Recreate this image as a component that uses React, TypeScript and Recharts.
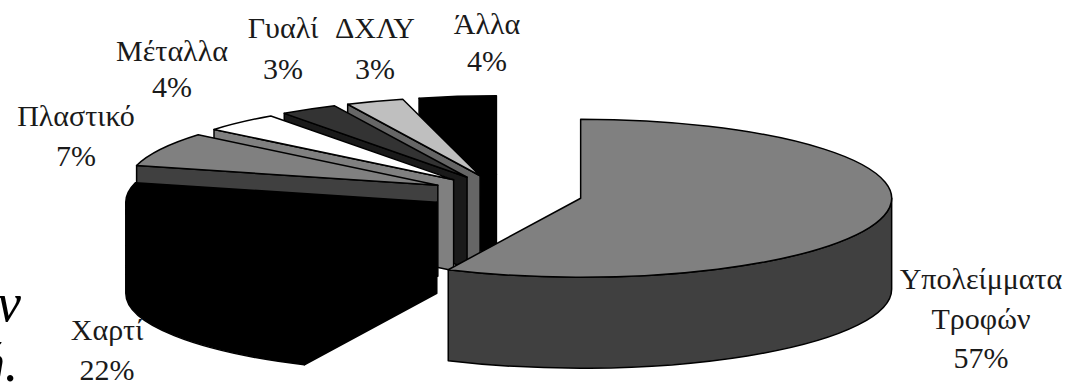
import React from "react";
import { PieChart, Pie, Cell } from "recharts";

const CATEGORIES = ["Άλλα", "ΔΧΛΥ", "Γυαλί", "Μέταλλα", "Πλαστικό", "Χαρτί", "Υπολείμματα Τροφών"];
const SHARES = [4, 3, 3, 4, 7, 22, 57];

const TOP_COLORS = ["#000000", "#bfbfbf", "#333333", "#ffffff", "#808080", "#000000", "#808080"];
const SIDE_COLORS = ["#000000", "#666666", "#1a1a1a", "#808080", "#404040", "#000000", "#404040"];

// label centre x and the y of the first line, per category
const LABEL_X = [487, 375, 283, 172, 76, 107, 981];
const LABEL_Y = [34, 38, 38, 61, 126, 340, 289];
const LINE_GAP = [37, 41, 41, 36, 40, 40, 39.5];

const WIDTH = 1073;
const HEIGHT = 385;
const CENTER_X = 506;
const CENTER_Y = 194;
const RADIUS = 311;
const SQUASH = 79 / 311; // vertical flattening of the disc
const DEPTH = 91;
const EXPLODE = 76.5;
const INK = "#1a1a1a";
const SERIF = "'Liberation Serif', 'Times New Roman', serif";

const data = CATEGORIES.map((name, i) => ({ name, value: SHARES[i] }));

const rad = (deg: number) => (deg * Math.PI) / 180;

// Draws one wedge of the tilted, extruded disc: outer wall, visible cut face, then top.
function ExtrudedSector(props: any) {
  const { cx, cy, startAngle, endAngle, outerRadius, payload } = props;
  const idx = CATEGORIES.indexOf(payload?.name ?? props.name);
  const mid = rad((startAngle + endAngle) / 2);
  const ax = cx + EXPLODE * Math.cos(mid);
  const ay = cy - EXPLODE * SQUASH * Math.sin(mid);
  const rx = outerRadius;
  const ry = outerRadius * SQUASH;
  const pt = (deg: number, drop = 0) => [
    ax + rx * Math.cos(rad(deg)),
    ay - ry * Math.sin(rad(deg)) + drop,
  ];
  const [sx, sy] = pt(startAngle);
  const [ex, ey] = pt(endAngle);
  const large = endAngle - startAngle > 180 ? 1 : 0;

  const side = SIDE_COLORS[idx];
  const line = { stroke: "#000", strokeWidth: 1.5, strokeLinejoin: "round" as const };

  const wallFrom = Math.max(startAngle, 180);
  const wallTo = Math.min(endAngle, 360);
  let wall = null;
  if (wallTo > wallFrom) {
    const [wx0, wy0] = pt(wallFrom);
    const [wx1, wy1] = pt(wallTo);
    const wallLarge = wallTo - wallFrom > 180 ? 1 : 0;
    const d =
      `M${wx0},${wy0} A${rx},${ry} 0 ${wallLarge} 0 ${wx1},${wy1} L${wx1},${wy1 + DEPTH} ` +
      `A${rx},${ry} 0 ${wallLarge} 1 ${wx0},${wy0 + DEPTH} Z`;
    wall = <path d={d} fill={side} {...line} />;
  }

  // only the far edge of a wedge turns its cut face to the viewer on this side of the disc
  const face =
    Math.cos(rad(endAngle)) < 0 ? (
      <path
        d={`M${ax},${ay} L${ex},${ey} L${ex},${ey + DEPTH} L${ax},${ay + DEPTH} Z`}
        fill={side}
        {...line}
      />
    ) : null;

  return (
    <g>
      {wall}
      {face}
      <path
        d={`M${ax},${ay} L${sx},${sy} A${rx},${ry} 0 ${large} 0 ${ex},${ey} Z`}
        fill={TOP_COLORS[idx]}
        {...line}
      />
    </g>
  );
}

function SliceLabel(props: any) {
  const idx = CATEGORIES.indexOf(props.payload?.name ?? props.name);
  const lines = [...CATEGORIES[idx].split(" "), `${SHARES[idx]}%`];
  return (
    <text textAnchor="middle" fontFamily={SERIF} fontSize={30} fill={INK}>
      {lines.map((t, i) => (
        <tspan key={t} x={LABEL_X[idx]} y={LABEL_Y[idx] + i * LINE_GAP[idx]}>
          {t}
        </tspan>
      ))}
    </text>
  );
}

export default function App() {
  return (
    <div style={{ position: "absolute", left: 0, top: 0, width: WIDTH, height: HEIGHT, background: "#fff" }}>
      <PieChart width={WIDTH} height={HEIGHT} margin={{ top: 0, right: 0, bottom: 0, left: 0 }}>
        <Pie
          data={data}
          dataKey="value"
          nameKey="name"
          cx={CENTER_X}
          cy={CENTER_Y}
          innerRadius={0}
          outerRadius={RADIUS}
          startAngle={90}
          endAngle={450}
          paddingAngle={0}
          isAnimationActive={false}
          shape={ExtrudedSector}
          label={SliceLabel}
          labelLine={false}
        >
          {data.map((entry, index) => (
            <Cell key={`cell-${index}`} fill={TOP_COLORS[index]} />
          ))}
        </Pie>
        {/* running text of the page that sits next to the chart */}
        <text x={-3} y={321} fontFamily={SERIF} fontStyle="italic" fontSize={54} fill="#000">
          ν
        </text>
        <text x={-22} y={381} fontFamily={SERIF} fontStyle="italic" fontSize={54} fill="#000">
          ή.
        </text>
      </PieChart>
    </div>
  );
}
